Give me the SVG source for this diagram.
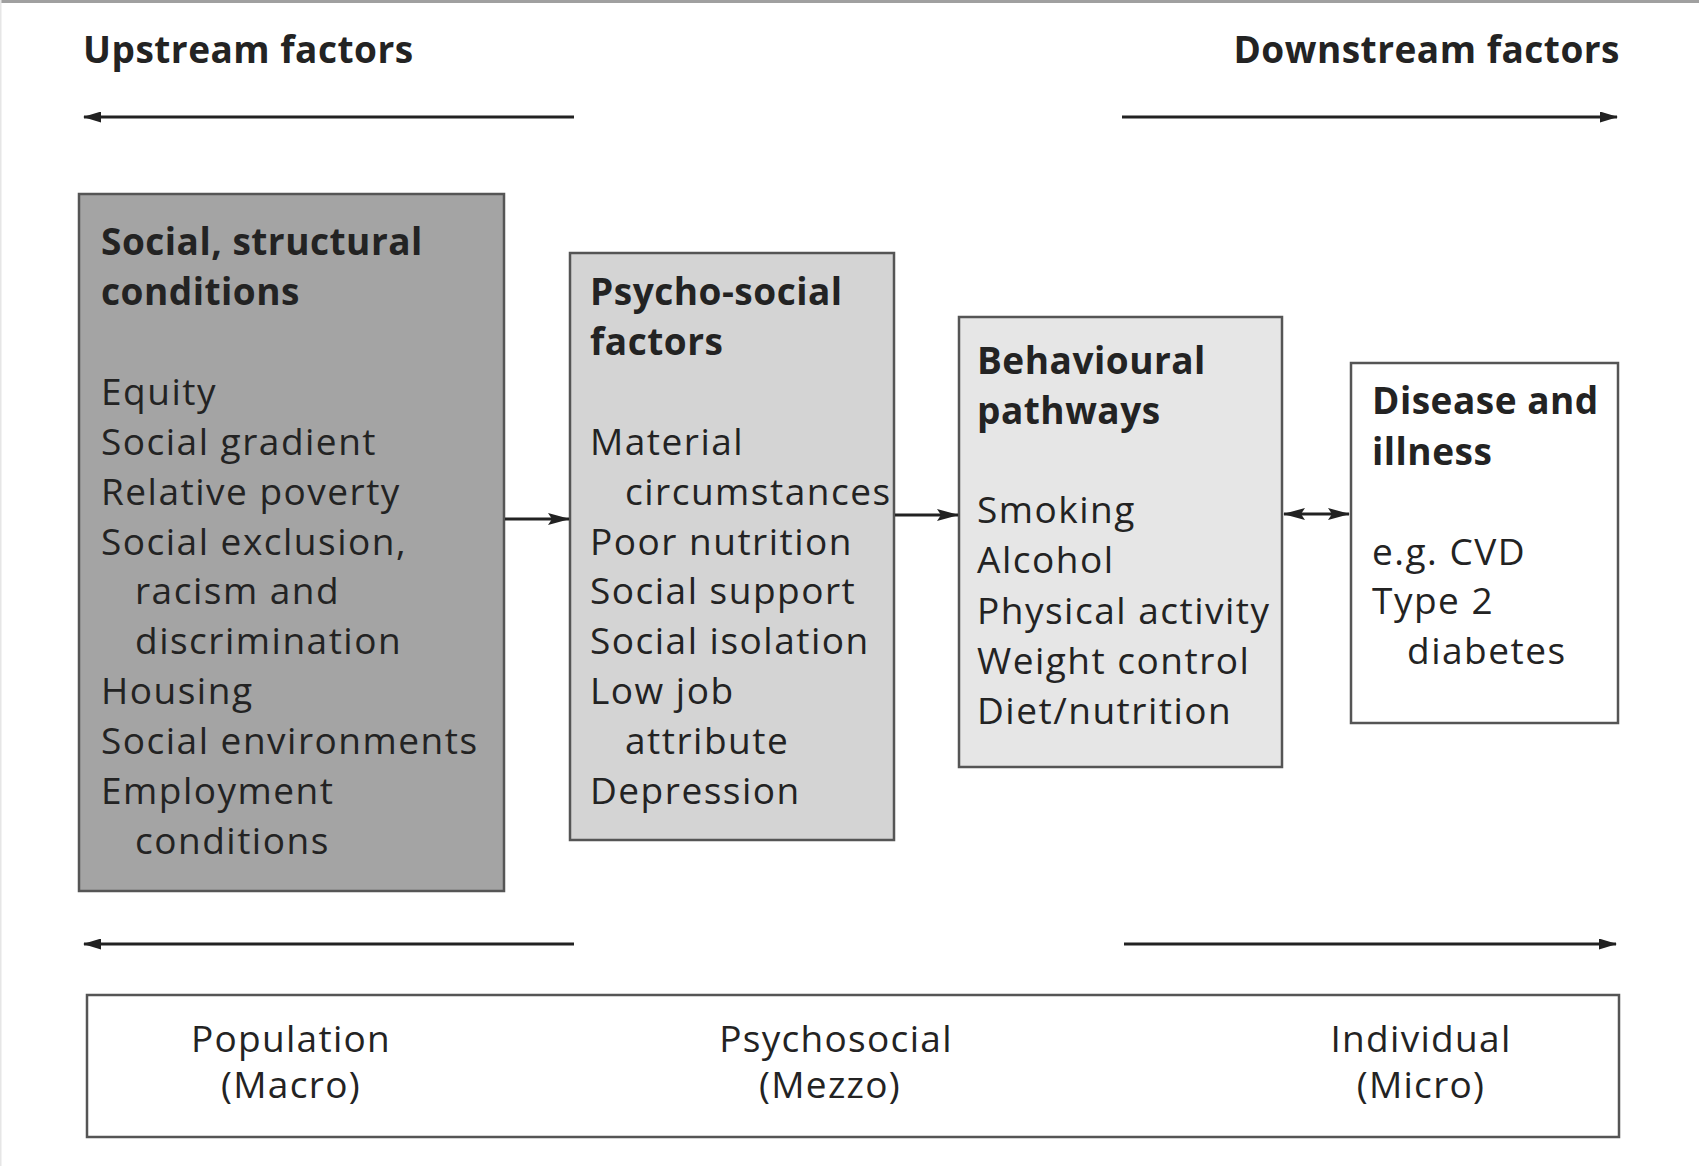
<svg xmlns="http://www.w3.org/2000/svg" width="1699" height="1166" viewBox="0 0 1699 1166">
<defs>
<marker id="ah" viewBox="0 0 18 11" refX="17" refY="5.5" markerWidth="18" markerHeight="11" markerUnits="userSpaceOnUse" orient="auto-start-reverse">
<path d="M0,0 L18,5.5 L0,11 z" fill="#222"/>
</marker>
<marker id="ah2" viewBox="0 0 22 12" refX="21" refY="6" markerWidth="22" markerHeight="12" markerUnits="userSpaceOnUse" orient="auto-start-reverse">
<path d="M0,0 L22,6 L0,12 L4,6 z" fill="#222"/>
</marker>
<style>
.t{font-family:"Open Sans",Lato,"DejaVu Sans",sans-serif;font-size:37px;fill:#232323;letter-spacing:1.5px}
.b{font-weight:bold;letter-spacing:0.5px}
.box{stroke:#555;stroke-width:2.5}
.ln{stroke:#222;stroke-width:2.8;fill:none}
.lab{font-family:"Open Sans",Lato,"DejaVu Sans",sans-serif;font-size:37px;fill:#232323;text-anchor:middle;letter-spacing:1.3px}
</style>
</defs>
<rect x="0" y="0" width="1699" height="1166" fill="#fff"/>
<rect x="0" y="0" width="1699" height="3" fill="#a0a0a0"/>
<rect x="0" y="0" width="1.5" height="1166" fill="#e6e6e6"/>

<g id="header-upstream">
<text class="t b" x="83" y="63">Upstream factors</text>
</g>
<g id="header-downstream">
<text class="t b" x="1620" y="63" text-anchor="end">Downstream factors</text>
</g>

<g id="node-social">
<rect class="box" x="79" y="194" width="425" height="697" fill="#a4a4a4"/>
<text class="t b" x="101" y="255">Social, structural</text>
<text class="t b" x="101" y="305">conditions</text>
<text class="t" x="101" y="405">Equity</text>
<text class="t" x="101" y="455">Social gradient</text>
<text class="t" x="101" y="505">Relative poverty</text>
<text class="t" x="101" y="555">Social exclusion,</text>
<text class="t" x="135" y="604">racism and</text>
<text class="t" x="135" y="654">discrimination</text>
<text class="t" x="101" y="704">Housing</text>
<text class="t" x="101" y="754">Social environments</text>
<text class="t" x="101" y="804">Employment</text>
<text class="t" x="135" y="854">conditions</text>
</g>

<g id="node-psychosocial">
<rect class="box" x="570" y="253" width="324" height="587" fill="#d4d4d4"/>
<text class="t b" x="590" y="305">Psycho-social</text>
<text class="t b" x="590" y="355">factors</text>
<text class="t" x="590" y="455">Material</text>
<text class="t" x="625" y="505">circumstances</text>
<text class="t" x="590" y="555">Poor nutrition</text>
<text class="t" x="590" y="604">Social support</text>
<text class="t" x="590" y="654">Social isolation</text>
<text class="t" x="590" y="704">Low job</text>
<text class="t" x="625" y="754">attribute</text>
<text class="t" x="590" y="804">Depression</text>
</g>

<g id="node-behavioural">
<rect class="box" x="959" y="317" width="323" height="450" fill="#e6e6e6"/>
<text class="t b" x="977" y="374">Behavioural</text>
<text class="t b" x="977" y="424">pathways</text>
<text class="t" x="977" y="523">Smoking</text>
<text class="t" x="977" y="573">Alcohol</text>
<text class="t" x="977" y="624">Physical activity</text>
<text class="t" x="977" y="674">Weight control</text>
<text class="t" x="977" y="724">Diet/nutrition</text>
</g>

<g id="node-disease">
<rect class="box" x="1351" y="363" width="267" height="360" fill="#fff"/>
<text class="t b" x="1372" y="414">Disease and</text>
<text class="t b" x="1372" y="465">illness</text>
<text class="t" x="1372" y="565">e.g. CVD</text>
<text class="t" x="1372" y="614">Type 2</text>
<text class="t" x="1407" y="664">diabetes</text>
</g>

<g id="node-levels">
<rect class="box" x="87" y="995" width="1532" height="142" fill="#fff"/>
<text class="lab" x="291" y="1052">Population</text>
<text class="lab" x="291" y="1098">(Macro)</text>
<text class="lab" x="836" y="1052">Psychosocial</text>
<text class="lab" x="830" y="1098">(Mezzo)</text>
<text class="lab" x="1421" y="1052">Individual</text>
<text class="lab" x="1421" y="1098">(Micro)</text>
</g>

<g id="connectors">
<line class="ln" x1="574" y1="117" x2="84" y2="117" marker-end="url(#ah)"/>
<line class="ln" x1="1122" y1="117" x2="1617" y2="117" marker-end="url(#ah)"/>
<line class="ln" x1="574" y1="944" x2="84" y2="944" marker-end="url(#ah)"/>
<line class="ln" x1="1124" y1="944" x2="1616" y2="944" marker-end="url(#ah)"/>
<line class="ln" x1="505" y1="519" x2="569" y2="519" marker-end="url(#ah2)"/>
<line class="ln" x1="895" y1="515" x2="958" y2="515" marker-end="url(#ah2)"/>
<line class="ln" x1="1284" y1="514" x2="1349" y2="514" marker-start="url(#ah2)" marker-end="url(#ah2)"/>
</g>
</svg>
